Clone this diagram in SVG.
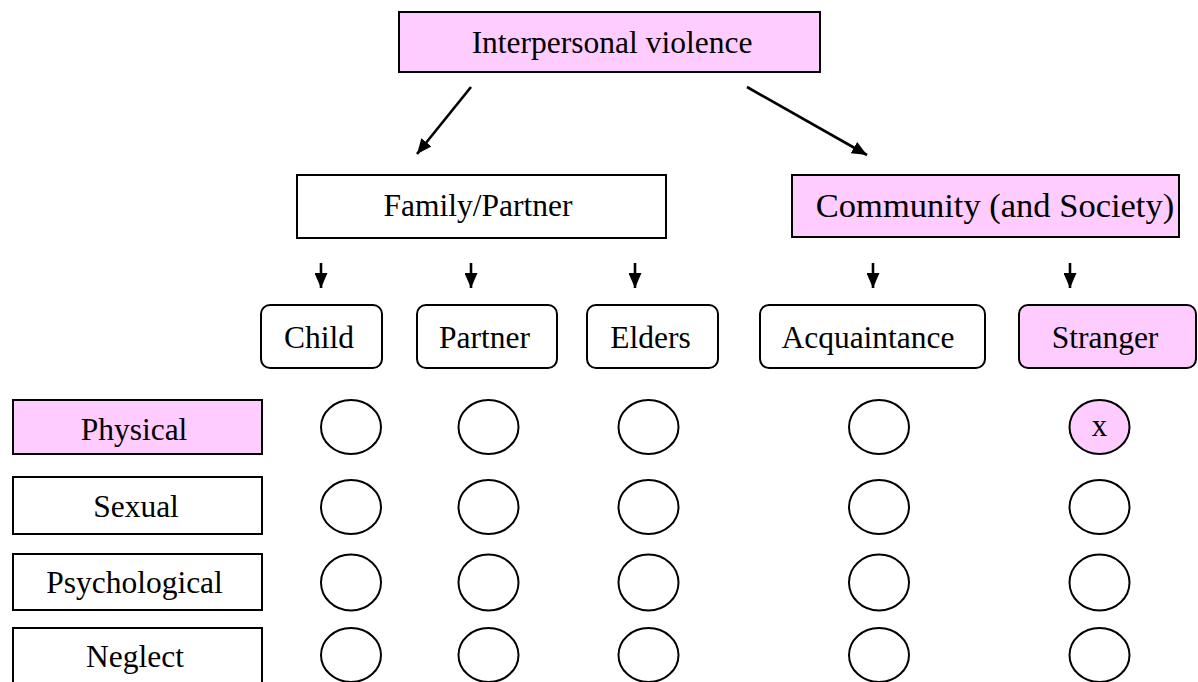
<svg xmlns="http://www.w3.org/2000/svg" width="1198" height="682" viewBox="0 0 1198 682">
<style>
.box{stroke:#000;stroke-width:2;fill:#fff}
.ov{stroke:#000;stroke-width:2;fill:#fff}
.box.pink,.ov.pink{fill:#ffccff}
text{font-family:"Liberation Serif","Times New Roman",serif;font-size:31.5px;fill:#000;text-anchor:middle}
.con line{stroke:#000;stroke-width:2.6}
</style>
<defs>
<marker id="ah" viewBox="0 0 15 13" refX="15" refY="6.5" markerWidth="15" markerHeight="13" markerUnits="userSpaceOnUse" orient="auto">
<path d="M0,0 L15,6.5 L0,13 Z" fill="#000"/>
</marker>
</defs>
<rect width="1198" height="682" fill="#fff"/>
<g class="con">
<line x1="471" y1="87" x2="417" y2="154" marker-end="url(#ah)"/>
<line x1="747" y1="87" x2="867" y2="155" marker-end="url(#ah)"/>
<line x1="321" y1="263" x2="321" y2="288" marker-end="url(#ah)"/>
<line x1="471" y1="263" x2="471" y2="288" marker-end="url(#ah)"/>
<line x1="635" y1="263" x2="635" y2="288" marker-end="url(#ah)"/>
<line x1="873" y1="263" x2="873" y2="288" marker-end="url(#ah)"/>
<line x1="1070" y1="263" x2="1070" y2="288" marker-end="url(#ah)"/>
</g>
<g id="interpersonal"><rect class="box pink" x="399" y="12" width="421" height="60"/><text x="612" y="53">Interpersonal violence</text></g>
<g id="family"><rect class="box" x="297" y="175" width="369" height="63"/><text x="478" y="216">Family/Partner</text></g>
<g id="community"><rect class="box pink" x="792" y="175" width="387" height="62"/><text x="995" y="217" style="font-size:34.5px">Community (and Society)</text></g>
<g id="child"><rect class="box" x="261" y="305" width="121" height="63" rx="9"/><text x="319" y="348">Child</text></g>
<g id="partner"><rect class="box" x="417" y="305" width="140" height="63" rx="9"/><text x="484.5" y="348">Partner</text></g>
<g id="elders"><rect class="box" x="587" y="305" width="131" height="63" rx="9"/><text x="650.5" y="348">Elders</text></g>
<g id="acquaintance"><rect class="box" x="760" y="305" width="225" height="63" rx="9"/><text x="868" y="348">Acquaintance</text></g>
<g id="stranger"><rect class="box pink" x="1019" y="305" width="177" height="63" rx="9"/><text x="1105" y="348">Stranger</text></g>
<g id="physical"><rect class="box pink" x="13" y="400" width="249" height="54"/><text x="134" y="440">Physical</text></g>
<g id="sexual"><rect class="box" x="13" y="477" width="249" height="57"/><text x="136" y="517">Sexual</text></g>
<g id="psychological"><rect class="box" x="13" y="554" width="249" height="56"/><text x="134.5" y="593">Psychological</text></g>
<g id="neglect"><rect class="box" x="13" y="628" width="249" height="60"/><text x="135" y="667">Neglect</text></g>
<g id="cells">
<ellipse class="ov" cx="351" cy="427" rx="30" ry="27"/>
<ellipse class="ov" cx="488.5" cy="427" rx="30" ry="27"/>
<ellipse class="ov" cx="648.5" cy="427" rx="30" ry="27"/>
<ellipse class="ov" cx="879" cy="427" rx="30" ry="27"/>
<ellipse class="ov pink" cx="1099.5" cy="427" rx="30" ry="27"/>
<text x="1099.5" y="436" style="font-size:31px">x</text>
<ellipse class="ov" cx="351" cy="507" rx="30" ry="27"/>
<ellipse class="ov" cx="488.5" cy="507" rx="30" ry="27"/>
<ellipse class="ov" cx="648.5" cy="507" rx="30" ry="27"/>
<ellipse class="ov" cx="879" cy="507" rx="30" ry="27"/>
<ellipse class="ov" cx="1099.5" cy="507" rx="30" ry="27"/>
<ellipse class="ov" cx="351" cy="582.5" rx="30" ry="28"/>
<ellipse class="ov" cx="488.5" cy="582.5" rx="30" ry="28"/>
<ellipse class="ov" cx="648.5" cy="582.5" rx="30" ry="28"/>
<ellipse class="ov" cx="879" cy="582.5" rx="30" ry="28"/>
<ellipse class="ov" cx="1099.5" cy="582.5" rx="30" ry="28"/>
<ellipse class="ov" cx="351" cy="655" rx="30" ry="27"/>
<ellipse class="ov" cx="488.5" cy="655" rx="30" ry="27"/>
<ellipse class="ov" cx="648.5" cy="655" rx="30" ry="27"/>
<ellipse class="ov" cx="879" cy="655" rx="30" ry="27"/>
<ellipse class="ov" cx="1099.5" cy="655" rx="30" ry="27"/>
</g>
</svg>
